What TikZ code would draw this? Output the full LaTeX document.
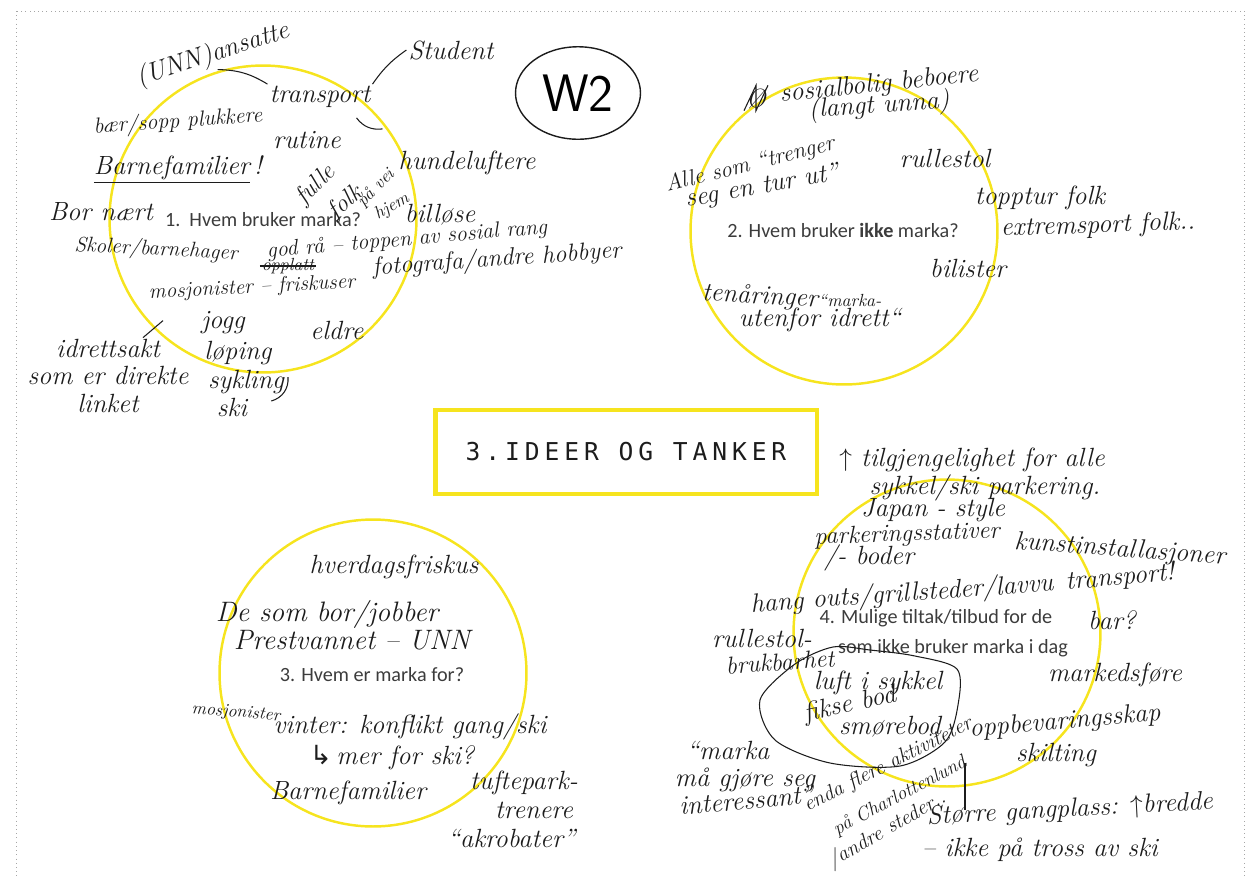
\documentclass[tikz,border=0pt]{standalone}
\usepackage{fontspec}
\usepackage{tikz}
\usetikzlibrary{shapes,positioning,calc}
\newfontfamily\qfont{Carlito}
\newfontfamily\titlefont[LetterSpace=20]{DejaVu Sans Mono}
\newfontfamily\symfont{DejaVu Sans}
\definecolor{markyellow}{RGB}{246,228,30}
\definecolor{ink}{RGB}{28,28,28}
\definecolor{printgrey}{RGB}{60,60,60}
\newcommand{\handsz}[1]{\fontsize{#1}{#1}\selectfont\itshape}
\tikzset{
ring/.style = {draw=markyellow, circle, line width=1.4pt, minimum size=6.14cm, inner sep=0pt},
question/.style = {font=\qfont\fontsize{11.5}{13}\selectfont, text=printgrey, inner sep=1pt},
note/.style = {font=\handsz{15}, text=ink, inner sep=1pt},
smallnote/.style = {font=\handsz{10}, text=ink, inner sep=1pt},
titlebox/.style = {draw=markyellow, line width=2.8pt, minimum width=7.64cm, minimum height=1.68cm, font=\titlefont\fontsize{14}{16}\selectfont, text=ink},
link/.style = {draw=ink, line width=0.6pt},
}

\begin{document}
\begin{tikzpicture}[x=0.02cm, y=-0.02cm, node distance=0.55cm]
  \useasboundingbox (0,0) rectangle (1255,877);
  \draw [gray!70, dotted] (16,11) rectangle (1244,890);

  \node [ring]                        (ring1)     at (263,219)  {};
  \node [question]                    (q1)        at (263,220)  {1.\ \ Hvem bruker marka?};
  \node [note, rotate=18]             (ansatte)   at (213,55)   {(UNN)ansatte};
  \node [note]                        (student)   at (451,50)   {Student};
  \node [note]                        (transport) at (320,97)   {transport};
  \node [note, rotate=4, font=\handsz{12.5}] (baer) at (178,122) {bær/sopp plukkere};
  \node [note]                        (rutine)    at (307,140)  {rutine};
  \node [note]                        (barnefam)  at (178,170)  {\underline{Barnefamilier}\,!};
  \node [note]                        (hunde)     at (467,163)  {hundeluftere};
  \node [note, rotate=45, font=\handsz{14}]   (fulle)  at (316,185) {fulle};
  \node [note, rotate=40, font=\handsz{14}]   (folk)   at (346,203) {folk};
  \node [smallnote, rotate=45]        (paavei)    at (376,188)  {på vei};
  \node [smallnote, rotate=30]        (hjem)      at (392,207)  {hjem};
  \node [note]                        (bornaert)  at (101,212)  {Bor nært};
  \node [note]                        (billose)   at (440,215)  {billøse};
  \node [note, rotate=-3, font=\handsz{12}]   (skoler) at (156,250) {Skoler/barnehager};
  \node [note, rotate=5, font=\handsz{12.5}]  (godraa) at (407,240) {god rå -- toppen av sosial rang};
  \node [smallnote]                   (opplatt)   at (288,266)  {opplatt};
  \node [note, rotate=4, font=\handsz{14}]    (foto)   at (497,260) {fotografa/andre hobbyer};
  \node [note, rotate=3, font=\handsz{12}]    (mosjon) at (252,288) {mosjonister -- friskuser};
  \node [note]                        (jogg)      at (223,323)  {jogg};
  \node [note]                        (loping)    at (238,353)  {løping};
  \node [note]                        (sykling)   at (246,382)  {sykling};
  \node [note]                        (ski)       at (232,407)  {ski};
  \node [note]                        (eldre)     at (337,330)  {eldre};
  \node [note]                        (idrett)    at (108,348)  {idrettsakt};
  \node [note, below of=idrett]                   (direkte)   {som er direkte};
  \node [note, below of=direkte]                  (linket)    {linket};
  \node [draw=ink, ellipse, line width=0.8pt, minimum width=2.5cm, minimum height=1.85cm,
         font=\sffamily\fontsize{30}{32}\selectfont] (wtwo) at (578,93) {W2};

  \draw [link] (ansatte.south) to [bend left=15] (transport.north west);
  \draw [link] (student.west) to [bend right=10] (transport.north east);
  \draw [link] ($(transport.south east)+(-16,8)$) to [bend right=30] ($(transport.south east)+(10,19)$);
  \draw [link] (opplatt.west) -- (opplatt.east);
  \draw [link] ($(idrett.north east)+(-19,1)$) -- ($(idrett.north east)+(1,-16)$);
  \draw [link] ($(sykling.east)+(2,-5)$) to [bend left=40] ($(ski.east)+(22,-6)$);

  \node [ring]                        (ring2)     at (844,231)  {};
  \node [question]                    (q2)        at (843,230)  {2. Hvem bruker \textbf{ikke} marka?};
  \node [note]                        (scrib)     at (756,98)   {Ø};
  \node [note, rotate=6]              (sosial)    at (879,85)   {sosialbolig beboere};
  \node [note, rotate=4]              (langt)     at (879,106)  {(langt unna)};
  \node [note, rotate=14, font=\handsz{13}]   (alle)   at (750,165) {Alle som “trenger};
  \node [note, rotate=10]             (segtur)    at (762,187)  {seg en tur ut”};
  \node [note]                        (rullestol) at (945,158)  {rullestol};
  \node [note]                        (topptur)   at (1040,198) {topptur folk};
  \node [note, rotate=2]              (extrem)    at (1098,226) {extremsport folk..};
  \node [note, rotate=-3]             (tenaar)    at (760,297)  {tenåringer};
  \node [smallnote]                   (marka)     at (850,300)  {“marka-};
  \node [note]                        (utenfor)   at (820,320)  {utenfor idrett“};
  \node [note]                        (bilister)  at (968,268)  {bilister};

  \draw [link] (scrib.south west) -- (scrib.north) -- (scrib.south) -- (scrib.north east);

  \node [titlebox]                    (title)     at (626,452)  {3.IDEER OG TANKER};

  \node [ring]                        (ring3)     at (373,673)  {};
  \node [question]                    (q3)        at (372,675)  {3. Hvem er marka for?};
  \node [note]                        (hverdag)   at (394,567)  {hverdagsfriskus};
  \node [note, font=\handsz{16}]      (desom)     at (327,614)  {De som bor/jobber};
  \node [note, font=\handsz{16}]      (prestv)    at (352,640)  {Prestvannet -- UNN};
  \node [smallnote, rotate=-5]        (mosjon3)   at (236,713)  {mosjonister};
  \node [note]                        (vinter)    at (410,727)  {vinter: konflikt gang/ski};
  \node [note]                        (merski)    at (392,758)  {{\symfont\upshape ↳}\,mer for ski?};
  \node [note]                        (barnefam3) at (348,793)  {Barnefamilier};
  \node [note]                        (tufte)     at (524,783)  {tuftepark-};
  \node [note, below of=tufte, xshift=0.2cm]      (trenere)   {trenere};
  \node [note, below of=trenere, xshift=-0.45cm]  (akrobat)   {“akrobater”};

  \node [ring]                        (ring4)     at (947,633)  {};
  \node [question]                    (q4a)       at (936,618)  {4. Mulige tiltak/tilbud for de};
  \node [question]                    (q4b)       at (953,648)  {som ikke bruker marka i dag};
  \node [note]                        (tilgj)     at (972,460)  {$\uparrow$ tilgjengelighet for alle};
  \node [note]                        (sykkelp)   at (985,488)  {sykkel/ski parkering.};
  \node [note]                        (japan)     at (933,510)  {Japan - style};
  \node [note, rotate=2, font=\handsz{14}]    (stativ) at (907,535) {parkeringsstativer};
  \node [note]                        (boder)     at (869,558)  {/- boder};
  \node [note, rotate=-4]             (kunst)     at (1120,550) {kunstinstallasjoner};
  \node [note, rotate=5]              (transp4)   at (1120,578) {transport!};
  \node [note, rotate=4]              (hang)      at (902,595)  {hang outs/grillsteder/lavvu};
  \node [note]                        (rull4)     at (762,638)  {rullestol-};
  \node [note, rotate=4, font=\handsz{14}]    (brukbar) at (780,662) {brukbarhet};
  \node [note]                        (bar)       at (1112,620) {bar?};
  \node [note]                        (marked)    at (1115,675) {markedsføre};
  \node [note]                        (luft)      at (878,683)  {luft i sykkel};
  \node [note, rotate=12]             (fikse)     at (850,705)  {fikse bod};
  \node [note]                        (smore)     at (890,727)  {smørebod};
  \node [note, rotate=5]              (oppbev)    at (1065,722) {oppbevaringsskap};
  \node [note]                        (skilt)     at (1056,755) {skilting};
  \node [note]                        (marka4)    at (728,750)  {“marka};
  \node [note]                        (gjore)     at (745,780)  {må gjøre seg};
  \node [note, rotate=5]              (interes)   at (746,800)  {interessant”};
  \node [note, rotate=27, font=\handsz{12}]   (enda)   at (888,765) {enda flere aktiviteter};
  \node [note, rotate=28, font=\handsz{11}]   (charl)  at (900,796) {på Charlottenlund};
  \node [note, rotate=30, font=\handsz{12}]   (andre)  at (887,830) {/andre steder..};
  \node [note, rotate=3]              (storre)    at (1070,810) {Større gangplass: $\uparrow$bredde};
  \node [note]                        (ikkeski)   at (1040,850) {-- ikke på tross av ski};
  \coordinate                         (vtop)      at (965,763);
  \coordinate                         (vbot)      at (965,810);

  \draw [link] (vtop) -- (vbot);
  \draw [link] plot [smooth cycle] coordinates {(957,669) (915,656) (870,650) (833,647) (795,664) (760,700) (775,740) (830,763) (900,766) (945,742) (958,705)};
\end{tikzpicture}
\end{document}
